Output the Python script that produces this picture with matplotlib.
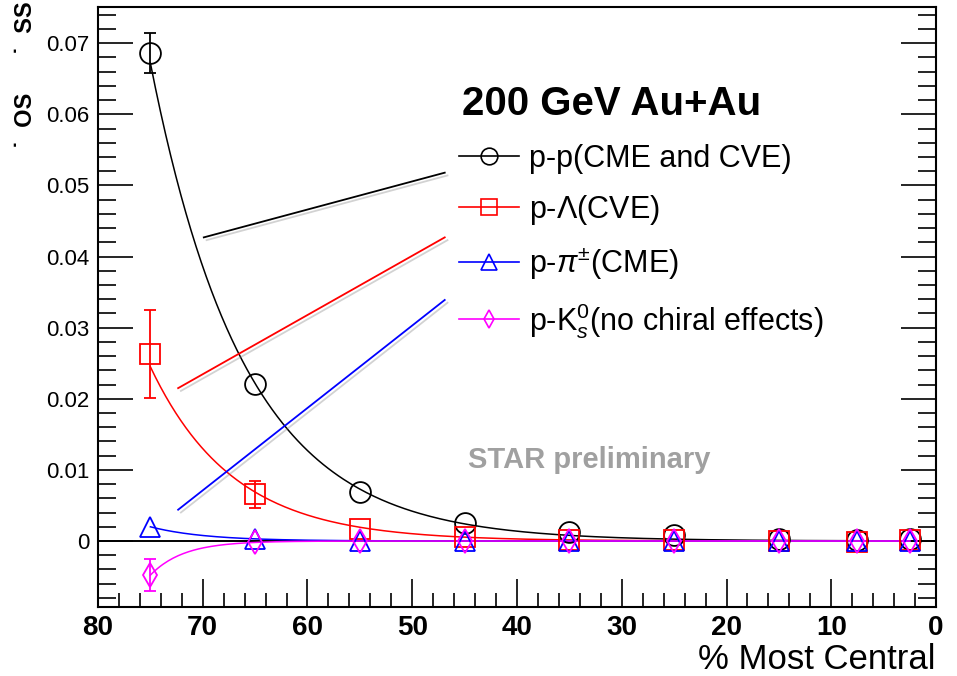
import matplotlib
matplotlib.use("Agg")
import matplotlib.pyplot as plt
import matplotlib.patheffects as pe
import numpy as np

plt.rcParams['font.family'] = ['Liberation Sans', 'DejaVu Sans']
plt.rcParams['mathtext.fontset'] = 'custom'
plt.rcParams['mathtext.rm'] = 'Liberation Sans'
plt.rcParams['mathtext.it'] = 'Liberation Sans:italic'

# centrality bins (% most central)
cent = [75, 65, 55, 45, 35, 25, 15, 7.5, 2.5]

# p-p (CME and CVE)
pp = [0.0686, 0.0221, 0.0069, 0.0025, 0.0013, 0.0008, 0.0003, 0.0002, 0.0003]
pp_err = [0.0028, 0.0005, 0.0003, 0.0002, 0.0001, 0.0001, 0.0001, 0.0001, 0.0001]
# p-Lambda (CVE)
pl = [0.0263, 0.0066, 0.0017, 0.0006, 0.0002, 0.0001, 0.0000, -0.0001, 0.0001]
pl_err = [0.0062, 0.0019, 0.0004, 0.0002, 0.0001, 0.0001, 0.0001, 0.0001, 0.0001]
# p-pi (CME)
ppi = [0.0020, 0.0003, 0.0000, 0.0000, 0.0000, 0.0000, 0.0000, 0.0000, 0.0000]
ppi_err = [0.0002, 0.0001, 0.0001, 0.0001, 0.0001, 0.0001, 0.0001, 0.0001, 0.0001]
# p-K0s (no chiral effects)
pk = [-0.0048, -0.0002, 0.0000, 0.0000, 0.0000, 0.0000, 0.0000, 0.0000, 0.0000]
pk_err = [0.0023, 0.0004, 0.0002, 0.0001, 0.0001, 0.0001, 0.0001, 0.0001, 0.0001]

labels = ["p-p(CME and CVE)", r"p-$\Lambda$(CVE)", r"p-$\pi^{\pm}$(CME)",
          r"p-K$^{0}_{s}$(no chiral effects)"]


def expfit(x, y, n):
    # exponential fit through the first n points
    x = np.array(x[:n])
    y = np.array(y[:n])
    s = np.sign(y[0])
    k, b = np.polyfit(x, np.log(np.abs(y)), 1)
    xx = np.linspace(75, 2.5, 300)
    return xx, s * np.exp(k * xx + b)


fig = plt.figure(figsize=(9.57, 6.76), dpi=100)
ax = fig.add_axes([98 / 957, 1 - 607 / 676, (936 - 98) / 957, (607 - 7) / 676])

ax.axhline(0, color='black', lw=1.4, zorder=1)

series = [(pp, pp_err, 'black', 'o', 4), (pl, pl_err, 'red', 's', 4),
          (ppi, ppi_err, 'blue', '^', 2), (pk, pk_err, 'magenta', 'd', 2)]
handles = []
for (y, e, c, m, n), lab in zip(series, labels):
    xx, yy = expfit(cent, y, n)
    ax.plot(xx, yy, color=c, lw=1.1, zorder=2)
    ms = 12 if m == 'd' else 15
    ax.plot(cent, y, m, mfc='none', mec=c, ms=ms, mew=1.3, zorder=3)
    # like ROOT: error bars only shown when they stick out of the marker
    big = [i for i in range(len(e)) if e[i] > 0.0014]
    ax.errorbar([cent[i] for i in big], [y[i] for i in big], yerr=[e[i] for i in big],
                fmt='none', ecolor=c, elinewidth=1.3, capsize=4, capthick=1.3, zorder=3)
    h, = ax.plot([], [], color=c, marker=m, mfc='none', mec=c, ms=ms - 3, mew=1.2, lw=1.2)
    handles.append(h)

leg = ax.legend(handles, labels, loc='upper left', bbox_to_anchor=(0.431, 0.772),
                frameon=False, fontsize=22, handlelength=1.95, handletextpad=0.35,
                labelspacing=0.62, borderpad=0, borderaxespad=0)

ax.text(0.434, 0.82, "200 GeV Au+Au", transform=ax.transAxes, fontsize=29,
        fontweight='bold', va='baseline', ha='left')
ax.text(0.4415, 0.245, "STAR preliminary", transform=ax.transAxes, fontsize=21,
        fontweight='bold', color='#a0a0a0', ha='left', va='center')

# pointer lines from legend to curves
shadow = [pe.SimpleLineShadow(offset=(2, -2), shadow_color='gray', alpha=0.35), pe.Normal()]
ax.plot([69.9, 46.9], [0.0427, 0.0518], color='black', lw=1.3, path_effects=shadow)
ax.plot([72.35, 46.9], [0.0215, 0.0427], color='red', lw=1.3, path_effects=shadow)
ax.plot([72.35, 46.9], [0.0044, 0.0339], color='blue', lw=1.3, path_effects=shadow)

ax.set_xlim(80, 0)
ax.set_ylim(-0.00928, 0.0751)
ax.set_xticks(np.arange(80, -1, -10))
ax.set_xticks(np.arange(80, -1, -2), minor=True)
ax.set_yticks(np.arange(0, 0.071, 0.01))
ax.set_yticks(np.arange(-0.008, 0.0751, 0.002), minor=True)
ax.set_yticklabels(['0', '0.01', '0.02', '0.03', '0.04', '0.05', '0.06', '0.07'])
ax.tick_params(axis='y', which='both', direction='in', right=True, labelsize=16, pad=6)
ax.tick_params(axis='y', which='major', length=25, width=1.2)
ax.tick_params(axis='y', which='minor', length=13, width=1.2)
ax.tick_params(axis='x', which='both', direction='in', top=False, labelsize=20, pad=6)
ax.tick_params(axis='x', which='major', length=20, width=1.2)
ax.tick_params(axis='x', which='minor', length=10, width=1.2)
for t in ax.get_xticklabels():
    t.set_fontweight('bold')
for s in ax.spines.values():
    s.set_linewidth(1.5)

ax.set_xlabel("% Most Central", fontsize=25, ha='right', va='top')
ax.xaxis.set_label_coords(1.0, -(643 - 607) / 600)

# y label, mostly cut off at the left edge: only the subscripts show
fig.text(37 / 957, 1 - 120 / 676, "\u02d9  OS", rotation=90, fontsize=17,
         fontweight='bold', ha='right', va='center')
fig.text(37 / 957, 1 - 28 / 676, "\u02d9  SS", rotation=90, fontsize=17,
         fontweight='bold', ha='right', va='center')

fig.savefig("out.png", dpi=100)
